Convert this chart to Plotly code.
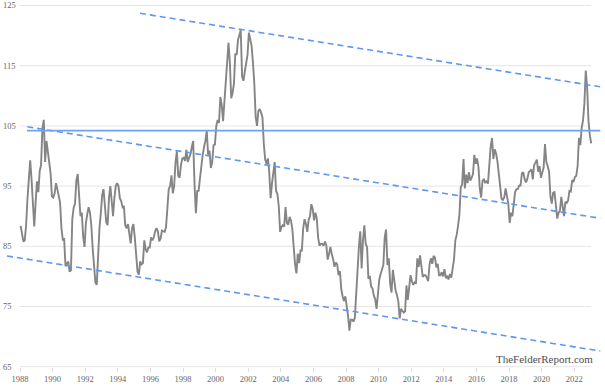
import plotly.graph_objects as go

# Monthly US Dollar Index values (Jan 1988 - Jan 2023)
dxy_1988_1992 = [
    88.4, 87.0, 85.8, 86.0, 88.5, 92.9, 96.4, 99.3, 96.1, 91.0, 88.3, 92.3,
    95.8, 94.0, 97.5, 98.5, 104.5, 106.0, 99.0, 102.5, 100.5, 99.2, 97.2, 93.3,
    93.1, 93.8, 95.5, 94.5, 93.1, 92.3, 88.0, 86.1, 86.2, 81.7, 82.1, 82.5,
    80.8, 81.0, 89.5, 91.4, 92.1, 96.0, 97.0, 93.9, 90.0, 90.6, 86.6, 84.9,
    88.8, 90.3, 91.5, 90.6, 88.5, 84.7, 82.0, 79.0, 78.6, 84.4, 88.0, 90.5,
]
dxy_1993_1997 = [
    93.5, 94.5, 92.0, 89.0, 88.5, 93.0, 95.0, 92.0, 90.0, 93.0, 95.0, 95.5,
    95.0, 93.0, 92.5, 91.5, 91.6, 88.5, 88.0, 88.7, 87.0, 85.5, 88.0, 88.7,
    86.5, 84.0, 80.8, 80.3, 82.5, 82.0, 82.2, 86.0, 84.5, 84.0, 84.8, 84.8,
    86.5, 86.0, 86.5, 87.5, 88.0, 87.5, 85.8, 86.3, 87.6, 87.5, 87.4, 88.2,
    92.5, 94.5, 95.0, 96.8, 93.8, 95.0, 99.0, 100.8, 96.7, 96.4, 98.5, 99.6,
]
dxy_1998_2002 = [
    99.7, 99.2, 101.0, 99.0, 99.7, 100.3, 101.5, 102.5, 95.2, 90.5, 94.2, 94.2,
    96.3, 98.6, 100.2, 101.5, 102.5, 104.2, 100.2, 100.9, 98.0, 99.0, 101.8, 101.9,
    105.0, 106.0, 105.5, 109.8, 108.5, 105.8, 108.8, 112.2, 114.5, 118.8, 115.5, 109.6,
    110.5, 112.0, 117.0, 116.8, 119.3, 120.2, 120.9, 113.2, 112.5, 114.0, 115.8, 116.8,
    120.5, 119.2, 118.3, 115.5, 112.0, 106.5, 105.0, 107.5, 107.8, 107.2, 106.4, 102.0,
]
dxy_2003_2007 = [
    99.4, 98.7, 99.6, 97.3, 93.0, 95.4, 97.3, 99.0, 94.2, 93.7, 91.7, 87.4,
    88.2, 88.5, 88.3, 91.5, 88.9, 88.6, 89.9, 89.3, 87.8, 84.8, 82.0, 80.5,
    83.8, 82.2, 84.3, 84.3, 88.0, 89.5, 88.7, 87.4, 89.4, 90.0, 92.0, 91.2,
    89.3, 90.6, 89.6, 86.4, 85.1, 85.4, 85.4, 85.1, 85.8, 85.2, 82.8, 83.7,
    84.9, 83.7, 82.9, 81.6, 82.3, 82.0, 80.2, 80.9, 77.9, 76.7, 75.9, 76.7,
]
dxy_2008_2012 = [
    75.2, 73.5, 71.0, 72.8, 72.8, 72.5, 73.1, 77.3, 79.4, 84.9, 87.5, 81.3,
    86.0, 88.5, 85.4, 84.9, 79.6, 80.1, 78.3, 78.0, 76.8, 76.2, 74.6, 77.9,
    79.5, 80.4, 81.1, 81.9, 86.5, 87.8, 81.9, 83.0, 78.8, 77.3, 81.1, 79.0,
    77.7, 76.9, 75.9, 73.0, 74.6, 74.3, 74.0, 74.2, 78.5, 76.1, 78.4, 80.2,
    79.2, 78.6, 79.0, 78.8, 83.0, 81.6, 83.5, 81.2, 79.9, 80.2, 80.2, 79.8,
]
dxy_2013_2017 = [
    79.2, 82.0, 83.0, 82.1, 83.4, 83.1, 81.5, 82.1, 80.2, 80.2, 80.7, 80.0,
    81.2, 79.7, 80.1, 79.5, 80.4, 79.8, 81.5, 82.8, 86.0, 86.9, 88.4, 90.3,
    94.8, 95.3, 99.5, 94.6, 96.9, 95.5, 97.3, 95.9, 96.4, 97.0, 100.2, 98.7,
    99.6, 98.2, 94.6, 93.1, 95.9, 96.1, 95.5, 95.9, 95.4, 98.5, 101.5, 103.0,
    99.5, 101.1, 100.4, 99.1, 97.0, 95.6, 92.9, 92.7, 93.1, 94.6, 93.1, 92.1,
]
dxy_2018_2023 = [
    88.9, 90.6, 90.0, 91.8, 94.0, 94.5, 94.5, 95.1, 95.1, 97.1, 97.3, 96.2,
    95.6, 96.2, 97.3, 97.5, 97.8, 96.1, 98.5, 98.9, 99.4, 97.4, 98.3, 96.4,
    97.4, 98.1, 102.0, 99.0, 98.3, 97.4, 93.3, 92.1, 93.9, 94.0, 91.9, 89.6,
    90.6, 90.9, 93.2, 91.3, 90.0, 92.4, 92.2, 92.6, 94.2, 94.1, 96.0, 95.7,
    96.5, 96.7, 98.3, 103.0, 101.8, 104.7, 105.9, 108.7, 114.2, 111.5, 105.9, 103.5,
    102.1,
]

start_year = 1988
x_ticks = list(range(1988, 2023, 2))
y_ticks = [65, 75, 85, 95, 105, 115, 125]

# Trend lines: (x0, y0, x1, y1) in years / index points
upper_channel = (1995.36, 123.7, 2023.6, 111.5)
middle_channel = (1988.45, 104.85, 2023.6, 89.65)
lower_channel = (1987.2, 83.4, 2023.6, 67.6)
resistance_level = 104.2
resistance_span = (1988.43, 2023.6)

values = (dxy_1988_1992 + dxy_1993_1997 + dxy_1998_2002 + dxy_2003_2007
          + dxy_2008_2012 + dxy_2013_2017 + dxy_2018_2023)
dates = [start_year + (i + 0.5) / 12 for i in range(len(values))]

fig = go.Figure()

fig.add_trace(go.Scatter(
    x=dates, y=values, mode="lines",
    line=dict(color="#858585", width=1.9),
    hoverinfo="skip", showlegend=False,
))

shapes = []
grid_end = 2023.03
for v in y_ticks:
    shapes.append(dict(type="line", xref="x", yref="y", x0=1988, x1=grid_end,
                       y0=v, y1=v, line=dict(color="#e6e6e6", width=1), layer="below"))

blue = "#5d98f0"
for (x0, y0, x1, y1) in (upper_channel, middle_channel, lower_channel):
    shapes.append(dict(type="line", xref="x", yref="y", x0=x0, y0=y0, x1=x1, y1=y1,
                       line=dict(color=blue, width=1.6, dash="6px,4px")))
shapes.append(dict(type="line", xref="x", yref="y",
                   x0=resistance_span[0], x1=resistance_span[1],
                   y0=resistance_level, y1=resistance_level,
                   line=dict(color="#6ea2f2", width=1.8)))

# pixel geometry
H, W = 387, 605
b_margin = 10
plot_h = H - b_margin
px_per_year = 16.3
px_per_unit = 6.02
base_gap = 10.3  # px between plot bottom and the 65 line
y_lo = 65 - base_gap / px_per_unit
y_hi = y_lo + plot_h / px_per_unit
x_min = 1988 - 20 / px_per_year
x_max = 1988 + (W - 20) / px_per_year

fig.update_layout(
    width=W, height=H,
    margin=dict(l=0, r=0, t=0, b=b_margin),
    paper_bgcolor="white", plot_bgcolor="white",
    shapes=shapes,
    font=dict(family="Liberation Serif", size=8.5, color="#666666"),
    xaxis=dict(
        range=[x_min, x_max], showgrid=False, zeroline=False, showline=False,
        anchor="free", position=base_gap / plot_h,
        tickvals=x_ticks, ticktext=[str(t) for t in x_ticks],
        ticks="outside", ticklen=4, tickcolor="#dddddd", tickwidth=1,
        tickfont=dict(family="Liberation Serif", size=8.5, color="#666666"),
    ),
    yaxis=dict(
        range=[y_lo, y_hi], showgrid=False, zeroline=False, showline=False,
        tickvals=y_ticks, ticktext=[str(t) for t in y_ticks],
        ticks="", ticklabelposition="inside",
        tickfont=dict(family="Liberation Serif", size=8.5, color="#666666"),
    ),
    annotations=[dict(
        text="TheFelderReport.com", xref="x", yref="y",
        x=2020.15, y=66.3, showarrow=False, xanchor="center", yanchor="middle",
        font=dict(family="Liberation Serif", size=11, color="#4d4d4d"),
    )],
)

fig.write_html("out.html", config={"displayModeBar": False},
               post_script="document.body.style.margin='0';")
